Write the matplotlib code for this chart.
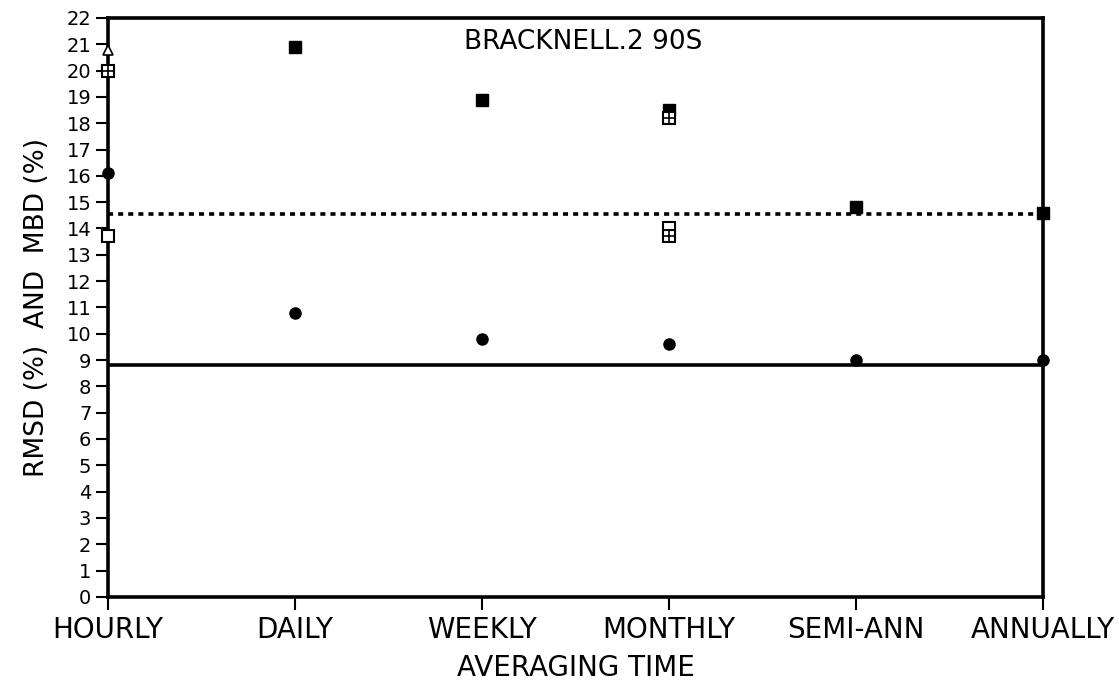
import numpy as np
import matplotlib.pyplot as plt

plt.rcParams['font.family'] = ['DejaVu Sans']

periods = ['HOURLY', 'DAILY', 'WEEKLY', 'MONTHLY', 'SEMI-ANN', 'ANNUALLY']

# RMSD, filled circles
rmsd = [16.1, 10.8, 9.8, 9.6, 9.0, 9.0]
# MBD, filled squares (none plotted for hourly)
mbd = [np.nan, 20.9, 18.9, 18.5, 14.8, 14.6]
# other model results at hourly / monthly
open_sq_x = ['HOURLY', 'MONTHLY']
open_sq = [13.7, 14.0]
cross_sq_x = ['HOURLY', 'MONTHLY', 'MONTHLY']
cross_sq = [20.0, 18.2, 13.7]
tri_x = ['HOURLY']
tri = [20.8]

rmsd_ref = 8.8
mbd_ref = 14.55

xpos = {p: i for i, p in enumerate(periods)}

fig = plt.figure(figsize=(11.19, 6.9), dpi=100)
ax = fig.add_axes([0.0965, 0.135, 0.8355, 0.839])

ax.axhline(mbd_ref, color='black', linestyle=(0, (1.4, 1.4)), linewidth=2.6)
ax.axhline(rmsd_ref, color='black', linestyle='-', linewidth=2.6)

x = np.arange(len(periods))
ax.plot(x, rmsd, 'o', color='black', markersize=8, clip_on=False, zorder=5)
ax.plot(x, mbd, 's', color='black', markersize=8, clip_on=False, zorder=5)
ax.plot([xpos[p] for p in open_sq_x], open_sq, 's', mfc='white', mec='black',
        mew=1.5, markersize=8, clip_on=False, zorder=5)
ax.plot([xpos[p] for p in cross_sq_x], cross_sq, 's', mfc='white', mec='black',
        mew=1.5, markersize=8, clip_on=False, zorder=6)
ax.plot([xpos[p] for p in cross_sq_x], cross_sq, '+', color='black',
        mew=1.2, markersize=7, clip_on=False, zorder=7)
ax.plot([xpos[p] for p in tri_x], tri, '^', mfc='white', mec='black',
        mew=1.2, markersize=7, clip_on=False, zorder=5)

ax.set_xlim(0, len(periods) - 1)
ax.set_ylim(0, 22)
ax.set_xticks(x)
ax.set_xticklabels(periods, fontsize=20)
ax.set_yticks(range(0, 23))
ax.tick_params(axis='y', labelsize=14, length=9, width=1.5, pad=3)
ax.tick_params(axis='x', length=9, width=1.5, pad=5)

for s in ax.spines.values():
    s.set_linewidth(2.6)

ax.set_xlabel('AVERAGING TIME', fontsize=20, labelpad=7)
ax.set_ylabel('RMSD (%)  AND  MBD (%)', fontsize=19, labelpad=12)
ax.text(0.508, 21.1, 'BRACKNELL.2 90S', transform=ax.get_yaxis_transform(),
        ha='center', va='center', fontsize=19)

fig.savefig('out.png', dpi=100)
